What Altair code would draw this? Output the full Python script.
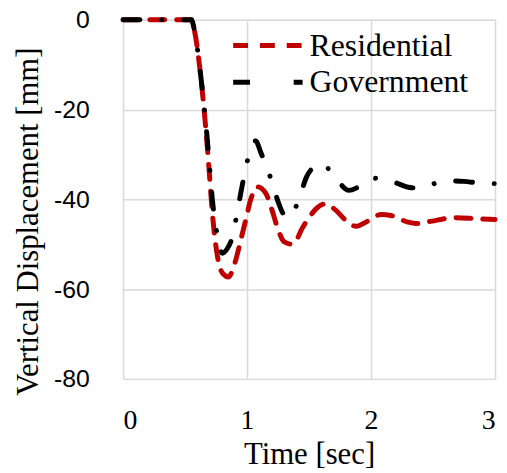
import altair as alt
import pandas as pd

series_names = ["Residential", "Government"]
series_colors = ["#C00000", "#000000"]

res_t = [0, 0.55, 0.58, 0.62, 0.66, 0.69, 0.72, 0.77, 0.81, 0.85,
         0.88, 0.91, 0.95, 0.99, 1.03, 1.08, 1.15, 1.2, 1.25, 1.3,
         1.36, 1.4, 1.44, 1.49, 1.56, 1.63, 1.71, 1.79, 1.88, 1.95,
         2.08, 2.16, 2.29, 2.36, 2.48, 2.67, 2.85, 3.0]
res_v = [0, 0, -3, -11, -22, -32, -43, -54, -56.7, -57.3,
         -56, -53.4, -49, -44.5, -40, -37.2, -38.6, -42.3, -46.7, -49.5,
         -50, -49, -46.7, -44.5, -42, -41, -42.3, -44.5, -46, -45.2,
         -43.4, -43.6, -45, -45.4, -44.9, -44.1, -44.3, -44.5]

gov_t = [0, 0.55, 0.58, 0.62, 0.66, 0.69, 0.72, 0.76, 0.8, 0.84,
         0.88, 0.92, 0.95, 0.99, 1.03, 1.07, 1.11, 1.16, 1.2, 1.25,
         1.3, 1.34, 1.38, 1.43, 1.48, 1.53, 1.6, 1.65, 1.7, 1.75,
         1.82, 1.88, 1.95, 2.02, 2.1, 2.2, 2.3, 2.38, 2.45, 2.55,
         2.65, 2.75, 2.85, 3.0]
gov_v = [0, 0, -3, -11, -21, -30, -40, -48, -52, -51,
         -48.5, -43, -38.5, -33, -28.5, -27, -29.5, -33, -36, -40.5,
         -43.5, -44, -42.5, -39, -35, -33, -32, -33, -35, -36.5,
         -38, -37.5, -36, -35.3, -35.5, -36.3, -37.3, -37.5, -37, -36.2,
         -35.9, -36, -36.3, -36.5]

x_ticks = [0, 1, 2, 3]
y_ticks = [0, -20, -40, -60, -80]

rows = []
for i, (t, v) in enumerate(zip(res_t, res_v)):
    rows.append({"t": t, "v": v, "series": "Residential", "o": i})
for i, (t, v) in enumerate(zip(gov_t, gov_v)):
    rows.append({"t": t, "v": v, "series": "Government", "o": i})
df = pd.DataFrame(rows)

serif = "Liberation Serif"
sans = "Liberation Sans"

legend_cfg = dict(title=None, orient="none", legendX=126, legendY=6,
                  symbolType="M-2,0H2", symbolSize=1225,
                  symbolStrokeWidth=5, labelFont=serif,
                  labelFontSize=32, labelColor="black",
                  labelOffset=22, rowPadding=1, padding=0)

chart = alt.Chart(df).mark_line(
    strokeWidth=5, strokeCap="round", strokeJoin="round", interpolate="monotone"
).encode(
    x=alt.X("t:Q", scale=alt.Scale(domain=[0, 3], nice=False),
            axis=alt.Axis(values=x_ticks, title="Time [sec]", format="d",
                          labelFont=serif, labelFontSize=28, labelColor="black",
                          labelPadding=28, titleFont=serif, titleFontSize=31,
                          titleFontWeight="normal", titleColor="black",
                          titlePadding=5, ticks=False, domain=False,
                          gridColor="#D9D9D9", gridWidth=1.5)),
    y=alt.Y("v:Q", scale=alt.Scale(domain=[-80, 0], nice=False),
            axis=alt.Axis(values=y_ticks, title="Vertical Displacement [mm]",
                          labelExpr="'' + datum.value",
                          labelFont=sans, labelFontSize=25, labelColor="black",
                          labelPadding=34, titleFont=serif, titleFontSize=31,
                          titleFontWeight="normal", titleColor="black",
                          titleX=-95, titleY=203, titleBaseline="middle",
                          titleAlign="center", titleAngle=-90,
                          ticks=False, domain=False,
                          gridColor="#D9D9D9", gridWidth=1.5)),
    color=alt.Color("series:N", scale=alt.Scale(domain=series_names, range=series_colors),
                    legend=alt.Legend(**legend_cfg)),
    strokeDash=alt.StrokeDash("series:N",
                              scale=alt.Scale(domain=series_names,
                                              range=[[15, 12], [17, 22, 0.01, 22]]),
                              legend=alt.Legend(**legend_cfg)),
    order="o:Q",
).properties(
    width=375, height=362,
    autosize=alt.AutoSizeParams(type="none"),
    padding={"left": 116, "top": 10, "right": 4, "bottom": 95},
).configure_view(
    stroke="black", strokeWidth=2
).configure(background="white")

chart.save("out.html", embed_options={"renderer": "svg", "actions": False})
